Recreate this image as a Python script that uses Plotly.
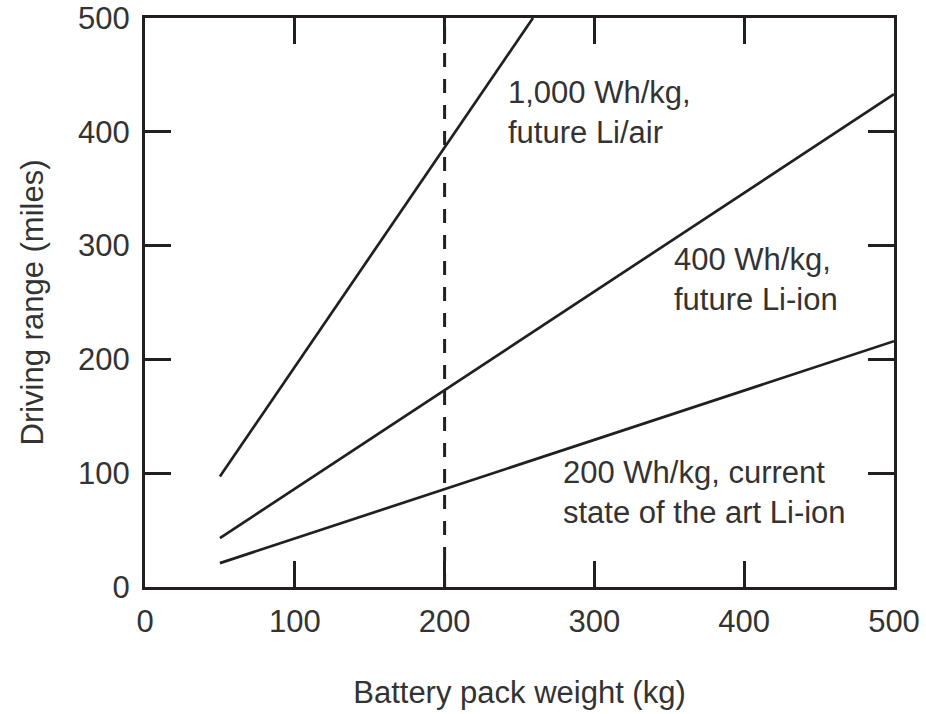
import plotly.graph_objects as go

# Data
weight_200 = [50, 500]
range_200 = [21, 216]
weight_400 = [50, 500]
range_400 = [43, 433]
weight_1000 = [50, 259]
range_1000 = [97, 500]
ref_weight = [200, 200]
ref_range = [0, 500]

labels = [
    (241, 417, "1,000 Wh/kg,<br>future Li/air"),
    (352, 270, "400 Wh/kg,<br>future Li-ion"),
    (278, 83, "200 Wh/kg, current<br>state of the art Li-ion"),
]

ink = "#231f20"
font = dict(family="Liberation Sans, Arial, sans-serif", size=31, color="#333333")

fig = go.Figure()
for xs, ys in [(weight_200, range_200), (weight_400, range_400), (weight_1000, range_1000)]:
    fig.add_trace(go.Scatter(x=xs, y=ys, mode="lines",
                             line=dict(color=ink, width=2.7), showlegend=False))
fig.add_trace(go.Scatter(x=ref_weight, y=ref_range, mode="lines",
                         line=dict(color=ink, width=3, dash="14px,12px"), showlegend=False))

for x, y, t in labels:
    fig.add_annotation(x=x, y=y, text=t, showarrow=False, xanchor="left", yanchor="middle",
                       align="left", font=font)

axis_common = dict(showline=True, linewidth=3, linecolor=ink, mirror="ticks",
                   ticks="inside", ticklen=26, tickwidth=3, tickcolor=ink,
                   showgrid=False, zeroline=False, tickfont=font, dtick=100,
                   automargin=False)

fig.update_xaxes(range=[0, 500], ticklabelstandoff=5,
                 title=dict(text="Battery pack weight (kg)", font=font, standoff=44),
                 **axis_common)
fig.update_yaxes(range=[0, 500], ticklabelstandoff=6,
                 title=dict(text="Driving range (miles)", font=font, standoff=26),
                 **axis_common)

fig.update_layout(width=926, height=714, plot_bgcolor="white", paper_bgcolor="white",
                  margin=dict(l=145, r=32, t=18, b=127), font=font)

fig.write_html("out.html", config={"displayModeBar": False},
               post_script="document.body.style.margin='0';")
